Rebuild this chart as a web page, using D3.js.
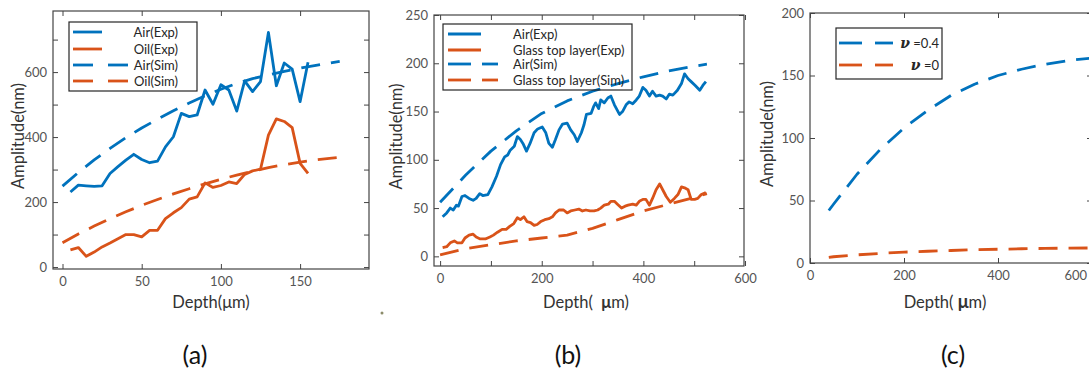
<!DOCTYPE html>
<html><head><meta charset="utf-8">
<script src="https://cdn.jsdelivr.net/npm/d3@7/dist/d3.min.js"></script>
<style>body{margin:0;background:#fff}svg{display:block}text{font-family:Lato,"Noto Sans",sans-serif}</style>
</head><body><svg id="c" width="1089" height="375"></svg>
<script>
// ---------- Panel (a) data ----------
const aDepthExp = [5,10,15,20,25,30,35,40,45,50,55,60,65,70,75,80,85,90,95,100,105,110,115,120,125,130,135,140,145,150,155];
const aAirExp   = [231,252,250,248,250,288,309,329,347,331,321,326,370,401,473,463,468,545,501,561,545,480,573,540,571,722,558,628,609,509,630];
const aOilExp   = [53,60,33,46,62,74,87,100,100,93,113,113,149,167,183,209,216,259,245,251,262,257,285,296,301,406,456,448,429,319,288];
const aDepthSim = [0,10,20,30,40,50,60,70,80,90,100,110,120,130,140,150,160,175];
const aAirSim   = [249,291,330,365,398,428,455,481,505,527,547,565,580,591,602,612,621,633];
const aDepthSimOil = [0,10,20,30,40,50,60,70,80,90,100,110,120,130,140,150,160,170,180];
const aOilSim   = [75,102,126,149,170,190,208,225,241,256,270,283,295,306,315,323,330,335,340];
const aLegend = ["Air(Exp)","Oil(Exp)","Air(Sim)","Oil(Sim)"];

// ---------- Panel (b) data ----------
const bAirExpX = [5,13,20,26,32,36,43,49,57,65,71,78,84,94,102,111,119,127,133,138,146,152,158,163,170,177,185,192,201,208,214,221,227,234,241,250,257,264,270,278,283,288,297,302,306,312,316,323,330,336,343,353,359,366,372,379,386,392,399,405,412,418,425,432,438,445,451,458,467,475,481,488,494,502,511,517,523];
const bAirExpY = [41,45,50,48,53,52,62,63,60,58,60,65,63,64,72,83,95,103,105,110,114,124,121,117,109,117,128,132,134,128,117,113,121,131,137,138,131,126,119,128,136,147,148,155,159,153,162,159,164,166,157,147,150,157,160,158,162,166,175,172,166,171,166,167,166,163,168,167,172,179,189,184,181,177,172,177,181];
const bGlassExpX = [5,13,20,28,34,43,49,57,65,71,79,89,98,105,113,122,130,137,145,152,158,165,171,178,185,191,198,206,214,221,227,234,243,250,257,265,273,280,287,295,303,310,316,323,331,336,343,349,357,364,370,379,386,392,399,405,412,418,425,432,438,445,453,461,468,475,481,488,494,501,507,514,523];
const bGlassExpY = [9,10,14,16,14,14,19,22,23,20,18,18,20,22,25,28,28,31,34,40,38,41,36,35,32,33,36,38,39,41,45,48,48,45,47,48,49,47,48,47,47,48,50,53,54,57,57,54,50,52,53,54,53,57,59,59,53,60,69,75,69,62,56,60,64,72,71,69,59,59,60,64,66];
const bSimX = [0,50,100,150,200,250,300,350,400,450,500,525];
const bAirSim = [56,84,109,130,148,161,171,179,186,192,197,199];
const bGlassSim = [1.5,8,12,16,19,22,29,38,47,54,61,65];
const bLegend = ["Air(Exp)","Glass top layer(Exp)","Air(Sim)","Glass top layer(Sim)"];

// ---------- Panel (c) data ----------
const cDepth = [40,50,100,150,200,250,300,350,400,450,500,550,600];
const cNu04  = [42,47,71,91,108,122,134,143,150,155,159,162,164];
const cNu0   = [4.5,5,6.5,7.7,8.7,9.4,10,10.6,11,11.4,11.7,11.9,12];
const cLegendVals = ["=0.4","=0"];

// ---------- Tick specs ----------
const aXTicks=[0,50,100,150], aXLabels=[0,50,100,150];
const aYTicks=[0,100,200,300,400,500,600,700], aYLabels=[0,200,400,600];
const bXTicks=[0,100,200,300,400,500,600], bXLabels=[0,200,400,600];
const bYTicks=[0,50,100,150,200,250], bYLabels=[0,50,100,150,200,250];
const cXTicks=[0,200,400,600], cXLabels=[0,200,400,600];
const cYTicks=[0,50,100,150,200], cYLabels=[0,50,100,150,200];

const BLUE="#0072BD", ORANGE="#D95319";
const DASH="19,11";
const svg=d3.select("#c");

function panel(p){
  const x=d3.scaleLinear().domain(p.xd).range([p.l,p.r]);
  const y=d3.scaleLinear().domain(p.yd).range([p.b,p.t]);
  const g=svg.append("g");
  const clipId="clip"+p.id;
  g.append("clipPath").attr("id",clipId).append("rect")
    .attr("x",p.l).attr("y",p.t).attr("width",p.r-p.l).attr("height",p.b-p.t);
  const fmtX=v=>p.xLab.includes(v)?String(v):"";
  const fmtY=v=>p.yLab.includes(v)?String(v):"";
  const ax=(gen,tr)=>{
    const a=g.append("g").attr("transform",tr).call(gen);
    a.select(".domain").remove();
    a.selectAll("line").attr("stroke","#444").attr("stroke-width",1);
    a.selectAll("text").attr("fill","#555").style("font-size","13px");
    return a;
  };
  const bx=ax(d3.axisBottom(x).tickValues(p.xt).tickFormat(fmtX).tickSize(-5).tickPadding(8),`translate(0,${p.b})`);
  // keep a tick label that would fall past the page edge inside it
  bx.selectAll("text").each(function(){
    const el=d3.select(this), bb=this.getBBox(), m=this.parentNode.transform.baseVal.consolidate().matrix.e;
    if(m+bb.x+bb.width>1088){ el.attr("text-anchor","end").attr("x",1087-m); }
  });
  ax(d3.axisTop(x).tickValues(p.xt).tickFormat("").tickSize(-5),`translate(0,${p.t})`);
  ax(d3.axisLeft(y).tickValues(p.yt).tickFormat(fmtY).tickSize(-5).tickPadding(6),`translate(${p.l},0)`);
  ax(d3.axisRight(y).tickValues(p.yt).tickFormat("").tickSize(-5),`translate(${p.r},0)`);
  g.append("rect").attr("x",p.l).attr("y",p.t).attr("width",p.r-p.l).attr("height",p.b-p.t)
    .attr("fill","none").attr("stroke","#444").attr("stroke-width",1.2);
  const line=d3.line().x(d=>x(d[0])).y(d=>y(d[1]));
  const lg=g.append("g").attr("clip-path",`url(#${clipId})`);
  p.series.forEach(s=>{
    lg.append("path").datum(d3.zip(s.x,s.y)).attr("d",line)
      .attr("fill","none").attr("stroke",s.c).attr("stroke-width",2.8)
      .attr("stroke-linejoin","round").attr("stroke-dasharray",s.dash?DASH:null);
  });
  g.append("text").attr("transform",`translate(${p.ylx},${(p.t+p.b)/2-4}) rotate(-90)`)
    .attr("text-anchor","middle").attr("dy","0.35em").attr("fill","#333").style("font-size","16.5px")
    .text("Amplitude(nm)");
  const xl=g.append("text").attr("x",p.xlx).attr("y",308).attr("text-anchor","middle")
    .attr("fill","#333").style("font-size","16.5px");
  p.xlabel(xl);
  g.append("text").attr("x",p.capx).attr("y",364).attr("text-anchor","middle")
    .attr("fill","#111").style("font-size","25px").text(p.cap);
  return {g,x,y};
}

function legend(g,L){
  g.append("rect").attr("x",L.x).attr("y",L.y).attr("width",L.w).attr("height",L.h)
    .attr("fill","none").attr("stroke","#262626").attr("stroke-width",1.2);
  L.items.forEach((it,i)=>{
    const yy=L.rows[i];
    if(it.dash){
      L.dashSegs.forEach(sg=>g.append("line").attr("x1",sg[0]).attr("x2",sg[1]).attr("y1",yy).attr("y2",yy)
        .attr("stroke",it.c).attr("stroke-width",2.8));
    } else {
      g.append("line").attr("x1",L.sx0).attr("x2",L.sx1).attr("y1",yy).attr("y2",yy)
        .attr("stroke",it.c).attr("stroke-width",2.8);
    }
    const t=g.append("text").attr("x",L.tx).attr("y",yy).attr("dy","0.35em")
      .attr("text-anchor",L.anchor).attr("fill","#262626").style("font-size","13px");
    if(it.render) it.render(t); else t.text(it.label);
  });
}

// Panel (a)
const A=panel({id:"a",l:53,r:369,t:11,b:269,xd:[-6,193.5],yd:[-6,788],
  xt:aXTicks,xLab:aXLabels,yt:aYTicks,yLab:aYLabels,ylx:18,xlx:211,cap:"(a)",capx:195,
  xlabel:t=>{t.text("Depth(μm)");},
  series:[{x:aDepthExp,y:aAirExp,c:BLUE},{x:aDepthExp,y:aOilExp,c:ORANGE},
          {x:aDepthSim,y:aAirSim,c:BLUE,dash:true},{x:aDepthSimOil,y:aOilSim,c:ORANGE,dash:true}]});
legend(A.g,{x:69,y:22,w:128,h:69,rows:[32,49,65,81],sx0:73,sx1:102,dashSegs:[[73,93],[108,128]],
  tx:178,anchor:"end",items:[{label:aLegend[0],c:BLUE},{label:aLegend[1],c:ORANGE},
  {label:aLegend[2],c:BLUE,dash:true},{label:aLegend[3],c:ORANGE,dash:true}]});

// Panel (b)
const B=panel({id:"b",l:434,r:744,t:15,b:266,xd:[-12,598],yd:[-10,250],
  xt:bXTicks,xLab:bXLabels,yt:bYTicks,yLab:bYLabels,ylx:396,xlx:586,cap:"(b)",capx:568,
  xlabel:t=>{t.append("tspan").text("Depth(\u00a0\u00a0");t.append("tspan").attr("font-weight","bold").text("μ");t.append("tspan").text("m)");},
  series:[{x:bAirExpX,y:bAirExpY,c:BLUE},{x:bGlassExpX,y:bGlassExpY,c:ORANGE},
          {x:bSimX,y:bAirSim,c:BLUE,dash:true},{x:bSimX,y:bGlassSim,c:ORANGE,dash:true}]});
legend(B.g,{x:443,y:24,w:189,h:66,rows:[34,50,64,80],sx0:448,sx1:481,dashSegs:[[448,471],[482,498]],
  tx:513,anchor:"start",items:[{label:bLegend[0],c:BLUE},{label:bLegend[1],c:ORANGE},
  {label:bLegend[2],c:BLUE,dash:true},{label:bLegend[3],c:ORANGE,dash:true}]});
svg.append("circle").attr("cx",382).attr("cy",313).attr("r",1.5).attr("fill","#8c8c6a");

// Panel (c)
const C=panel({id:"c",l:810,r:1092,t:13,b:263,xd:[0,600],yd:[0,200],
  xt:cXTicks,xLab:cXLabels,yt:cYTicks,yLab:cYLabels,ylx:767,xlx:945,cap:"(c)",capx:953,
  xlabel:t=>{t.append("tspan").text("Depth(\u00a0");t.append("tspan").attr("font-weight","bold").style("font-size","18px").text("μ");t.append("tspan").text("m)");},
  series:[{x:cDepth,y:cNu04,c:BLUE,dash:true},{x:cDepth,y:cNu0,c:ORANGE,dash:true}]});
const nu=(t,v)=>{t.append("tspan").attr("font-family","'DejaVu Serif',serif").attr("font-weight","bold").attr("font-style","italic").style("font-size","14px").text("ν");t.append("tspan").text("\u00a0"+v);};
legend(C.g,{x:836,y:28,w:106,h:51,rows:[43,65],sx0:839,sx1:862,dashSegs:[[839,862],[875,893]],
  tx:939,anchor:"end",items:[{c:BLUE,dash:true,render:t=>nu(t,cLegendVals[0])},{c:ORANGE,dash:true,render:t=>nu(t,cLegendVals[1])}]});
</script></body></html>
